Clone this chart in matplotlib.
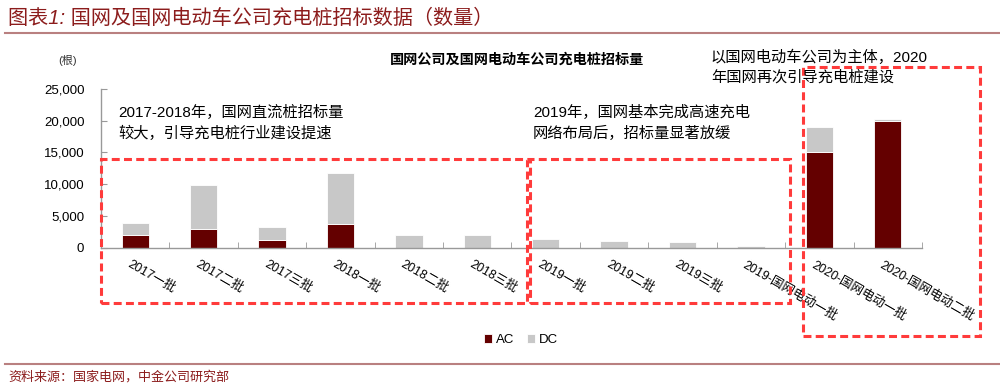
import matplotlib
matplotlib.use("Agg")
import matplotlib.pyplot as plt
from matplotlib.patches import Rectangle
from matplotlib.lines import Line2D
import numpy as np

plt.rcParams['font.family'] = ['Liberation Sans', 'Noto Sans CJK SC', 'DejaVu Sans']

categories = ["2017一批", "2017二批", "2017三批", "2018一批", "2018二批", "2018三批",
              "2019一批", "2019二批", "2019三批", "2019-国网电动一批",
              "2020-国网电动一批", "2020-国网电动二批"]
ac = [2000, 2900, 1200, 3700, 0, 0, 0, 0, 0, 0, 15100, 20000]
dc = [1900, 6900, 2000, 8000, 1950, 1950, 1300, 1050, 950, 200, 3900, 200]
yticks = [0, 5000, 10000, 15000, 20000, 25000]

AC_COLOR = "#640000"
DC_COLOR = "#C8C8C8"
RED = "#8C1C1C"
LINE = "#B98080"
DASH = "#FF3B3B"

fig = plt.figure(figsize=(10, 3.86), dpi=100)
ax = fig.add_axes([0.101, 1 - 247.7 / 386, 0.821, (247.7 - 89) / 386])

x = np.arange(len(categories))
ax.bar(x, ac, width=0.4, color=AC_COLOR, edgecolor="white", linewidth=0.6, label="AC")
ax.bar(x, dc, width=0.4, bottom=ac, color=DC_COLOR, edgecolor="white", linewidth=0.6, label="DC")

ax.set_xlim(-0.5, len(categories) - 0.5)
ax.set_ylim(0, 25000)
ax.set_yticks(yticks)
ax.set_yticklabels([f"{v:,}" for v in yticks], fontsize=9.5)
ax.set_xticks(x)
ax.set_xticklabels([])
ax.set_xticks(np.arange(len(categories) + 1) - 0.5, minor=True)
ax.tick_params(axis='x', which='major', length=0)
ax.tick_params(axis='x', which='minor', direction='in', length=4, color="#999999")
ax.tick_params(axis='y', direction='in', length=4, color="#999999", pad=12)
for s in ["top", "right"]:
    ax.spines[s].set_visible(False)
for s in ["left", "bottom"]:
    ax.spines[s].set_color("#999999")
    ax.spines[s].set_linewidth(1.0)

for i, lab in enumerate(categories):
    ax.annotate(lab, xy=(i, 0), xycoords=('data', 'data'), xytext=(-3, -8),
                textcoords='offset points', rotation=-30, rotation_mode='anchor',
                ha='left', va='top', fontsize=9, annotation_clip=False)

# header
fig.text(0.008, 1 - 18 / 386, "图表1: 国网及国网电动车公司充电桩招标数据（数量）", color=RED,
         fontsize=14.5, va='center', ha='left', style='italic')
fig.add_artist(Line2D([0.005, 1.0], [1 - 33 / 386] * 2, color=LINE, lw=1.5, transform=fig.transFigure))
fig.add_artist(Line2D([0.005, 1.0], [1 - 364 / 386] * 2, color=LINE, lw=1.5, transform=fig.transFigure))
fig.text(0.008, 1 - 377 / 386, "资料来源：国家电网，中金公司研究部", color=RED,
         fontsize=9.4, va='center', ha='left', style='italic')

fig.text(0.058, 1 - 60 / 386, "(根)", fontsize=8, va='center', ha='left', color="#333333")
fig.text(0.517, 1 - 60 / 386, "国网公司及国网电动车公司充电桩招标量", fontsize=10.2,
         fontweight='bold', va='center', ha='center')

fig.text(0.118, 1 - 123 / 386, "2017-2018年，国网直流桩招标量\n较大，引导充电桩行业建设提速",
         fontsize=11, va='center', ha='left', linespacing=1.45)
fig.text(0.533, 1 - 123 / 386, "2019年，国网基本完成高速充电\n网络布局后，招标量显著放缓",
         fontsize=11, va='center', ha='left', linespacing=1.45)
fig.text(0.711, 1 - 67 / 386, "以国网电动车公司为主体，2020\n年国网再次引导充电桩建设",
         fontsize=11, va='center', ha='left', linespacing=1.45)

def box(x0, y0, x1, y1):
    r = Rectangle((x0 / 1000, 1 - y1 / 386), (x1 - x0) / 1000, (y1 - y0) / 386,
                  transform=fig.transFigure, fill=False, edgecolor=DASH, lw=2.2,
                  linestyle=(0, (2.6, 1.4)), clip_on=False)
    fig.add_artist(r)

box(101, 159, 527, 303)
box(530, 159, 790, 303)
box(803, 67, 980, 336)

fig.legend(loc='center', bbox_to_anchor=(0.521, 1 - 340 / 386), ncol=2, frameon=False,
           fontsize=9.5, handlelength=0.6, handleheight=0.6, handletextpad=0.3,
           columnspacing=1.0, borderaxespad=0)

fig.savefig("out.png", dpi=100)
